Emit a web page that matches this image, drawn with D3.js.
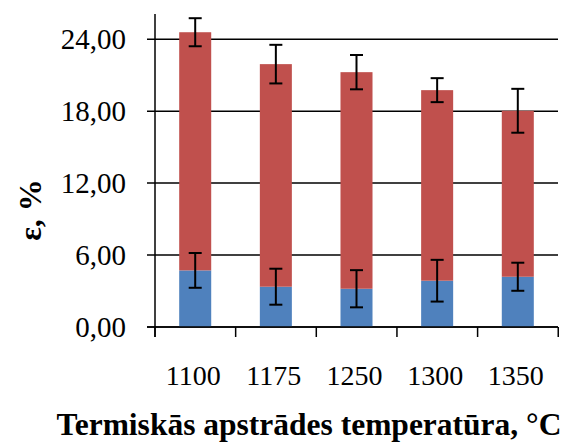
<!DOCTYPE html>
<html>
<head>
<meta charset="utf-8">
<script src="https://cdn.jsdelivr.net/npm/d3@7"></script>
<style>
  html, body { margin: 0; padding: 0; background: #fff; }
  svg { display: block; }
  text { font-family: "Liberation Serif", "Times New Roman", serif; fill: #000; }
</style>
</head>
<body>
<svg id="chart" width="568" height="442"></svg>
<script>
// Temperatures of the heat treatment (°C)
const categories = ["1100", "1175", "1250", "1300", "1350"];
// Lower (blue) component of ε, %
const blueValues = [4.72, 3.36, 3.19, 3.86, 4.19];
// Upper (red) component stacked on top, %
const redValues = [19.86, 18.56, 18.06, 15.89, 13.84];
// Error bar half-widths
const blueErrors = [1.45, 1.50, 1.55, 1.74, 1.17];
const totalErrors = [1.17, 1.61, 1.43, 1.00, 1.83];
// Y axis ticks
const yTicks = [0, 6, 12, 18, 24];
const yMax = 26.1;

const svg = d3.select("#chart");
const plotLeft = 155, plotRight = 558, plotTop = 14, plotBottom = 327;

const x = d3.scaleBand().domain(categories).range([plotLeft, plotRight])
  .paddingInner(0.603).paddingOuter(0.3);
const y = d3.scaleLinear().domain([0, yMax]).range([plotBottom, plotTop]);

const rows = categories.map((c, i) => ({ cat: c, blue: blueValues[i], red: redValues[i] }));
const stacked = d3.stack().keys(["blue", "red"])(rows);
const colors = { blue: "#4F81BD", red: "#C0504D" };

// Horizontal gridlines with outward tick marks
svg.append("g").selectAll("line").data(yTicks).join("line")
  .attr("x1", plotLeft - 8).attr("x2", plotRight)
  .attr("y1", d => y(d)).attr("y2", d => y(d))
  .attr("stroke", "#000").attr("stroke-width", 1.5);

// Stacked bars
svg.append("g").selectAll("g").data(stacked).join("g")
  .attr("fill", d => colors[d.key])
  .selectAll("rect").data(d => d).join("rect")
  .attr("x", d => x(d.data.cat))
  .attr("width", x.bandwidth())
  .attr("y", d => y(d[1]))
  .attr("height", d => y(d[0]) - y(d[1]));

// Error bars
function errorBars(centers, errs) {
  const g = svg.append("g").attr("stroke", "#000").attr("stroke-width", 2);
  const cap = 6.5;
  centers.forEach((v, i) => {
    const cx = x(categories[i]) + x.bandwidth() / 2;
    const y1 = y(v + errs[i]), y0 = y(v - errs[i]);
    g.append("line").attr("x1", cx).attr("x2", cx).attr("y1", y1).attr("y2", y0);
    g.append("line").attr("x1", cx - cap).attr("x2", cx + cap).attr("y1", y1).attr("y2", y1);
    g.append("line").attr("x1", cx - cap).attr("x2", cx + cap).attr("y1", y0).attr("y2", y0);
  });
}
errorBars(blueValues, blueErrors);
errorBars(blueValues.map((b, i) => b + redValues[i]), totalErrors);

// Axis lines and category separators
svg.append("line").attr("x1", plotLeft).attr("x2", plotLeft).attr("y1", plotTop).attr("y2", plotBottom + 10)
  .attr("stroke", "#000").attr("stroke-width", 1.5);
svg.append("line").attr("x1", plotLeft - 8).attr("x2", plotRight).attr("y1", plotBottom).attr("y2", plotBottom)
  .attr("stroke", "#000").attr("stroke-width", 1.5);
const step = x.step();
svg.append("g").selectAll("line").data(d3.range(categories.length + 1)).join("line")
  .attr("x1", i => plotLeft + i * step).attr("x2", i => plotLeft + i * step)
  .attr("y1", plotBottom).attr("y2", plotBottom + 10)
  .attr("stroke", "#000").attr("stroke-width", 1.5);

// Y tick labels
const fmt = d => d3.format(".2f")(d).replace(".", ",");
svg.append("g").selectAll("text").data(yTicks).join("text")
  .attr("x", 126).attr("y", d => y(d)).attr("dy", "0.35em")
  .attr("text-anchor", "end").attr("font-size", 29)
  .text(fmt);

// X tick labels
svg.append("g").selectAll("text").data(categories).join("text")
  .attr("x", d => x(d) + x.bandwidth() / 2 - 2).attr("y", 385)
  .attr("text-anchor", "middle").attr("font-size", 28)
  .text(d => d);

// Axis titles
svg.append("text").attr("x", 309).attr("y", 435)
  .attr("text-anchor", "middle").attr("font-size", 31.5).attr("font-weight", "bold")
  .text("Termiskās apstrādes temperatūra, °C");

svg.append("text").attr("transform", "translate(41,210) rotate(-90)")
  .attr("text-anchor", "middle").attr("font-size", 32).attr("font-weight", "bold")
  .text("ε, %");
</script>
</body>
</html>
